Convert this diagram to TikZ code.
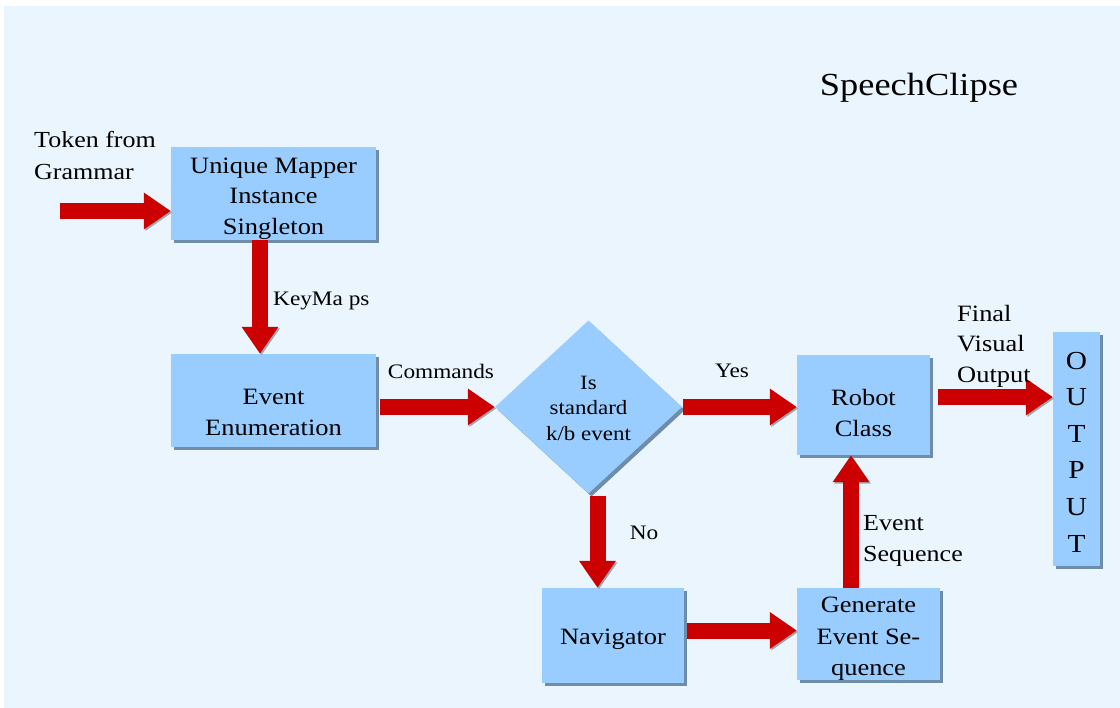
\documentclass[tikz,border=0pt]{standalone}
\usepackage{fontspec}
\setmainfont[FakeStretch=1.13]{Liberation Serif}
\usetikzlibrary{arrows.meta,shapes.geometric,shadows}
\definecolor{bg}{HTML}{EAF5FE}
\definecolor{boxfill}{HTML}{99CCFF}
\definecolor{boxshadow}{HTML}{6F8CAA}
\definecolor{arrowred}{HTML}{CC0000}
\definecolor{arrowshadow}{HTML}{9AA6B2}
\begin{document}
\begin{tikzpicture}[x=1pt,y=-1pt,
  box/.style={fill=boxfill, drop shadow={shadow xshift=3pt, shadow yshift=-3pt, fill=boxshadow, opacity=1},
    inner sep=0pt},
  boxtext/.style={inner sep=0pt, align=center, font=\fontsize{23.4}{30.5}\selectfont},
  bigarrow/.style={draw=arrowred, line width=16pt, -{Triangle[length=27pt,width=35pt]},
    preaction={draw=arrowshadow, transform canvas={shift={(1.5pt,-1.5pt)}}}},
  lbl/.style={inner sep=0pt, font=\fontsize{20.6}{26}\selectfont},
  biglbl/.style={inner sep=0pt, align=left, font=\fontsize{23}{31}\selectfont}
]
\useasboundingbox (0,0) rectangle (1120,708);
\fill[white] (0,0) rectangle (1120,708);
\fill[bg] (4,6) rectangle (1120,708);

% boxes
\node[box, minimum width=205pt, minimum height=93pt] (A) at (273.5,193.5) {};
\node[boxtext] (At) at ([yshift=-5pt]A.center) {Unique Mapper\\Instance\\Singleton};
\node[box, minimum width=205pt, minimum height=93pt] (E) at (273.5,400.5) {};
\node[boxtext] (Et) at ([yshift=-12pt]E.center) {Event\\Enumeration};
\node[box, shape=diamond, minimum width=187pt, minimum height=173pt] (D) at (588.5,407) {};
\node[boxtext, font=\fontsize{20.3}{25.5}\selectfont] (Dt) at ([yshift=-1pt]D.center) {Is\\standard\\k/b event};
\node[box, minimum width=133pt, minimum height=100pt] (R) at (863.5,405) {};
\node[boxtext] (Rt) at ([yshift=-8pt]R.center) {Robot\\Class};
\node[box, minimum width=142pt, minimum height=95pt] (N) at (613,635.5) {};
\node[boxtext] (Nt) at ([yshift=-4pt]N.center) {Navigator};
\node[box, minimum width=143pt, minimum height=92pt] (G) at (868.5,634) {};
\node[boxtext, font=\fontsize{23.4}{31.5}\selectfont] (Gt) at ([yshift=-5pt]G.center) {Generate\\Event Se-\\quence};
\node[box, minimum width=47pt, minimum height=234pt] (O) at (1076.5,449) {};
\node[boxtext, font=\fontsize{26}{36.6}\selectfont] (Ot) at ([yshift=-3pt]O.center) {O\\U\\T\\P\\U\\T};

% connectors
\coordinate (tk) at (60,211);
\draw[bigarrow] (tk) -- (tk -| A.west);
\draw[bigarrow] ([xshift=-13.5pt]A.south) -- ([xshift=-13.5pt]E.north);
\draw[bigarrow, shorten <=4pt] (E.east |- D.west) -- (D.west);
\draw[bigarrow, shorten <=1pt] (D.east) -- (R.west |- D.east);
\coordinate (r1) at ([yshift=8pt]R.east);
\draw[bigarrow, shorten <=8pt] (r1) -- (r1 -| O.west);
\coordinate (n1) at ([xshift=9pt]D.south);
\draw[bigarrow, shorten <=2pt] (n1) -- (n1 |- N.north);
\coordinate (n2) at ([yshift=5pt]N.east);
\draw[bigarrow, shorten <=3pt] (n2) -- (n2 -| G.west);
\coordinate (g1) at ([xshift=-17.5pt]G.north);
\draw[bigarrow] (g1) -- (g1 |- R.south);

% labels
\node[inner sep=0pt, font=\fontsize{32.2}{36}\selectfont] (title) at (919,88) {SpeechClipse};
\node[biglbl, anchor=west, font=\fontsize{23}{32}\selectfont] (ltok) at (34,156) {Token from\\Grammar};
\node[lbl, anchor=west] (lkey) at (273,301) {KeyMa ps};
\node[lbl] (lcmd) at (441,371) {Commands};
\node[lbl] (lyes) at (732,371) {Yes};
\node[lbl] (lno) at (644,533) {No};
\node[biglbl, anchor=west, font=\fontsize{23.4}{30.5}\selectfont] (lfin) at (957,346) {Final\\Visual\\Output};
\node[biglbl, anchor=west] (lseq) at (863,541) {Event\\Sequence};
\end{tikzpicture}
\end{document}
